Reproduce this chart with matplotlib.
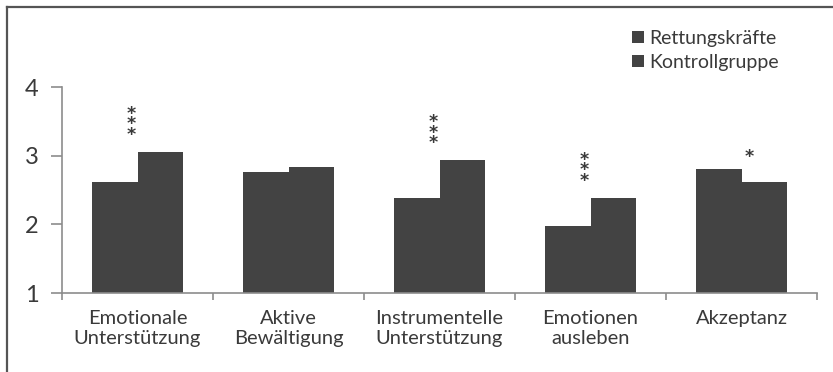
import matplotlib
matplotlib.use("Agg")
import matplotlib.pyplot as plt
from matplotlib.lines import Line2D
from matplotlib.patches import Patch
import numpy as np

plt.rcParams['font.family'] = ['Lato', 'DejaVu Sans']

categories = ["Emotionale\nUnterstützung", "Aktive\nBewältigung",
              "Instrumentelle\nUnterstützung", "Emotionen\nausleben", "Akzeptanz"]
rettungskraefte = [2.62, 2.76, 2.39, 1.98, 2.80]
kontrollgruppe = [3.05, 2.84, 2.93, 2.38, 2.61]
significance = ["***", "", "***", "***", "*"]
series_names = ["Rettungskräfte", "Kontrollgruppe"]
y_ticks = [1, 2, 3, 4]

bar_color = "#434343"
text_color = "#3a3a3a"
axis_color = "#8c8c8c"

fig = plt.figure(figsize=(8.33, 3.72), dpi=100)
ax = fig.add_axes([62 / 833, 1 - 293 / 372, (817 - 62) / 833, (293 - 87) / 372])

x = np.arange(len(categories))
w = 0.30
ax.bar(x - w / 2, np.array(rettungskraefte) - 1, w, bottom=1, color=bar_color, linewidth=0)
ax.bar(x + w / 2, np.array(kontrollgruppe) - 1, w, bottom=1, color=bar_color, linewidth=0)

ax.set_xlim(-0.5, len(categories) - 0.5)
ax.set_ylim(1, 4)
ax.set_yticks(y_ticks)
ax.set_yticklabels([str(t) for t in y_ticks], fontsize=17, color=text_color)
ax.set_xticks(np.arange(len(categories) + 1) - 0.5)
ax.set_xticklabels([])
ax.set_xticks(x, minor=True)
ax.set_xticklabels(categories, minor=True, fontsize=14.5, color=text_color, linespacing=1.25)
ax.tick_params(axis='x', which='minor', length=0, pad=12)
ax.tick_params(axis='x', which='major', length=5, width=1.2, color=axis_color, direction='out')
ax.tick_params(axis='y', length=8, width=1.2, color=axis_color, pad=9)

for s in ("top", "right"):
    ax.spines[s].set_visible(False)
for s in ("left", "bottom"):
    ax.spines[s].set_color(axis_color)
    ax.spines[s].set_linewidth(1.2)

# significance markers, stacked vertically above each group
for i, sig in enumerate(significance):
    if not sig:
        continue
    top = max(rettungskraefte[i], kontrollgruppe[i])
    if len(sig) > 1:
        ax.text(i - 0.04, top + 0.12, "\n".join(sig), ha='center', va='bottom',
                fontsize=12.5, color=text_color, family='DejaVu Sans', fontweight='bold',
                linespacing=0.48)
    else:
        ax.text(i + 0.05, top + 0.05, sig, ha='center', va='bottom',
                fontsize=12.5, color=text_color, family='DejaVu Sans', fontweight='bold')

handles = [Patch(facecolor=bar_color, edgecolor='none') for _ in series_names]
leg = fig.legend(handles, series_names, loc='upper left', bbox_to_anchor=(632 / 833, 1 - 30 / 372),
                 frameon=False, fontsize=14, handlelength=0.6, handleheight=0.6,
                 handletextpad=0.3, labelspacing=0.35, borderpad=0, borderaxespad=0)
for t in leg.get_texts():
    t.set_color(text_color)

# outer frame (top and left edges)
fig.add_artist(Line2D([7 / 833, 7 / 833], [0, 1 - 7 / 372], transform=fig.transFigure,
                      color="#555555", linewidth=1.6))
fig.add_artist(Line2D([7 / 833, 1], [1 - 7 / 372, 1 - 7 / 372], transform=fig.transFigure,
                      color="#555555", linewidth=1.6))

fig.savefig("out.png", dpi=100)
